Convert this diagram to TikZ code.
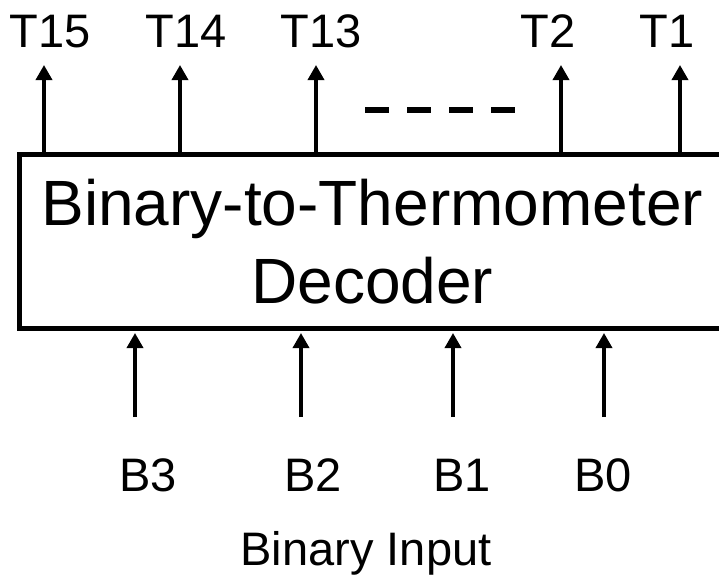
\documentclass[tikz,border=0pt]{standalone}
\usepackage{fontspec}
\setmainfont{Liberation Sans}
\usepackage{tikz}
\usetikzlibrary{positioning,arrows.meta}
\tikzset{
  dec/.style ={draw=black, line width=5pt, align=center, inner sep=0pt,
               minimum width=705.5pt, minimum height=173.5pt,
               font=\fontsize{64}{78}\selectfont},
  lbl/.style ={anchor=base, inner sep=0pt, font=\fontsize{47}{56}\selectfont},
  ar/.style  ={-{Triangle[length=15pt,width=16pt]}, draw=black, line width=3.5pt},
  dsh/.style ={draw=black, line width=6pt, dash pattern=on 24pt off 18pt},
}

\begin{document}
\begin{tikzpicture}[x=1pt,y=-1pt]
\useasboundingbox (0,0) rectangle (719,574);
\clip (0,0) rectangle (719,574);
% decoder block (right side runs off the page)
\node[dec] (dec) at (372.25,241.25) {Binary-to-Thermometer\\Decoder};

% thermometer outputs
\foreach \x/\lx/\n in {44/50/15, 180/186/14, 316/321/13, 561/548/2, 680/667/1}{
  \node[lbl] (t\n) at (\lx,47) {T\n};
  \coordinate (o\n) at (\x,65);
  \draw[ar] (dec.north -| o\n) -- (o\n);
}
\draw[dsh] (365,110) -- (515,110);

% binary inputs
\foreach \x/\lx/\n in {135/148/3, 301/313/2, 453/462/1, 604/603/0}{
  \node[lbl] (b\n) at (\lx,491) {B\n};
  \coordinate (i\n) at (\x,417);
  \draw[ar,shorten >=2.5pt] (i\n) -- (dec.south -| i\n);
}
\node[lbl] (bin) at (366,565) {Binary Input};
\end{tikzpicture}
\end{document}
